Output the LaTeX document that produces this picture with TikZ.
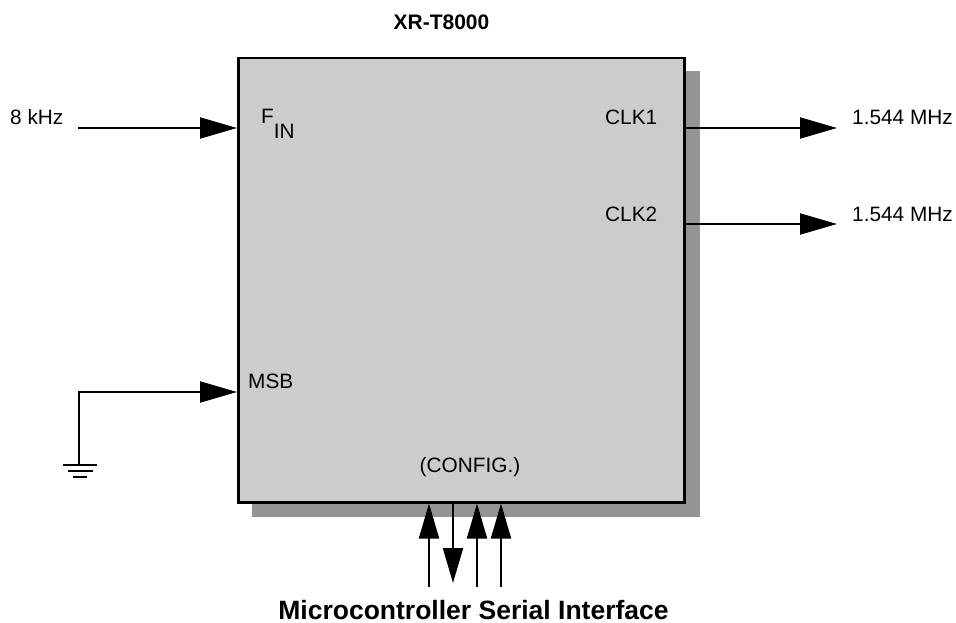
\documentclass[tikz,border=0pt]{standalone}
\usepackage{fontspec}
\setmainfont{Liberation Sans}
\usetikzlibrary{arrows.meta}
\definecolor{chipfill}{HTML}{CCCCCC}
\definecolor{shadowgray}{HTML}{949494}
\tikzset{
  lbl/.style={inner sep=0pt, anchor=base west, font=\fontsize{20.8}{24}\selectfont},
  sig/.style={line width=2pt, -{Triangle[length=37pt,width=21pt]}},
  wire/.style={line width=2pt},
  busarrow/.style={line width=2pt, -{Triangle[length=35pt,width=20pt]}},
}
\begin{document}
\begin{tikzpicture}[x=1pt,y=-1pt]
\useasboundingbox (0,0) rectangle (956,623);
% shadow and chip
\fill[shadowgray] (252,71) rectangle (700,517);
\node[draw, line width=2.5pt, fill=chipfill, minimum width=446pt, minimum height=444pt, inner sep=0pt, anchor=north west] (chip) at (237,57) {};
% title
\node[inner sep=0pt, anchor=base, font=\bfseries\fontsize{21}{24}\selectfont] (title) at (441.5,30) {XR-T8000};
% labels
\node[lbl] (f) at (10,125) {8 kHz};
\node[lbl] (fin) at (261,124) {F\raisebox{-15pt}{IN}};
\node[lbl] (clk1) at (605,125) {CLK1};
\node[lbl] (clk2) at (605,221) {CLK2};
\node[lbl] (o1) at (852,125) {1.544 MHz};
\node[lbl] (o2) at (852,221) {1.544 MHz};
\node[lbl] (msb) at (248,388) {MSB};
\node[lbl, anchor=base] (cfg) at (470,472) {(CONFIG.)};
\node[inner sep=0pt, anchor=base, text depth=0pt, font=\bfseries\fontsize{26.5}{30}\selectfont] (mcu) at (473.5,619) {Microcontroller Serial Interface};
% coordinates
\coordinate (inS) at (78,128);
\coordinate (out1) at (837,128);
\coordinate (out2) at (837,224);
\coordinate (gnd) at (79,465);
\coordinate (corner) at (79,392);
\coordinate (b1) at (429,587);
\coordinate (b2) at (453,583);
\coordinate (b3) at (477,587);
\coordinate (b4) at (501,587);
% connectors
\draw[sig] (inS) -- (inS -| chip.west);
\draw[sig] (out1 -| chip.east) -- (out1);
\draw[sig] (out2 -| chip.east) -- (out2);
\draw[sig] (gnd) -- (corner) -- (corner -| chip.west);
\draw[wire] (63,465) -- (97,465);
\draw[wire] (68,471) -- (93,471);
\draw[wire] (73,477) -- (87,477);
\draw[busarrow] (b1) -- (b1 |- chip.south);
\draw[busarrow] (b2 |- chip.south) -- (b2);
\draw[busarrow] (b3) -- (b3 |- chip.south);
\draw[busarrow] (b4) -- (b4 |- chip.south);
\end{tikzpicture}
\end{document}
